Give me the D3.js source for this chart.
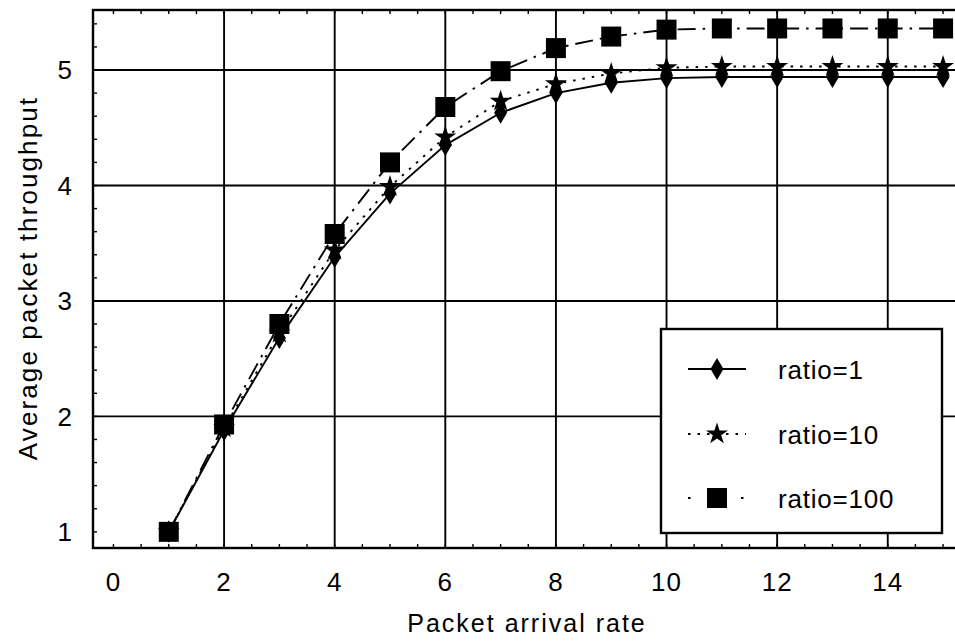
<!DOCTYPE html>
<html>
<head>
<meta charset="utf-8">
<script src="https://cdn.jsdelivr.net/npm/d3@7"></script>
<style>
  html, body { margin: 0; padding: 0; background: #fff; }
  svg { display: block; font-family: "Liberation Sans", Arial, sans-serif; }
</style>
</head>
<body>
<div id="chart"></div>
<script>
// arrival rates and the three throughput curves
const arrivalRate = [1, 2, 3, 4, 5, 6, 7, 8, 9, 10, 11, 12, 13, 14, 15];
const ratio1   = [1.00, 1.88, 2.68, 3.38, 3.93, 4.35, 4.63, 4.80, 4.89, 4.93, 4.94, 4.94, 4.94, 4.94, 4.94];
const ratio10  = [1.00, 1.90, 2.72, 3.44, 3.99, 4.42, 4.73, 4.88, 4.97, 5.02, 5.03, 5.03, 5.03, 5.03, 5.03];
const ratio100 = [1.00, 1.93, 2.80, 3.58, 4.20, 4.68, 4.99, 5.19, 5.29, 5.35, 5.36, 5.36, 5.36, 5.36, 5.36];

const seriesNames = ["ratio=1", "ratio=10", "ratio=100"];
const xTickValues = [0, 2, 4, 6, 8, 10, 12, 14];
const yTickValues = [1, 2, 3, 4, 5];
const xGridValues = [2, 4, 6, 8, 10, 12, 14];
const yGridValues = [2, 3, 4, 5];

const width = 955, height = 643;
// plot box (right edge runs off the page like in the scan)
const plotL = 93, plotT = 10, plotR = 958, plotB = 548;

const x = d3.scaleLinear().domain([-0.37, 15.27]).range([plotL, plotR]);
const y = d3.scaleLinear().domain([0.86, 5.52]).range([plotB, plotT]);

const svg = d3.select("#chart").append("svg")
    .attr("width", width)
    .attr("height", height);

// grid
const grid = svg.append("g").attr("stroke", "#000").attr("stroke-width", 1.9);
grid.selectAll(".vg").data(xGridValues).join("line")
    .attr("x1", d => x(d)).attr("x2", d => x(d))
    .attr("y1", plotT).attr("y2", plotB);
grid.selectAll(".hg").data(yGridValues).join("line")
    .attr("y1", d => y(d)).attr("y2", d => y(d))
    .attr("x1", plotL).attr("x2", plotR);

// minor ticks, pointing inwards
const minorX = d3.range(0, 15.5, 0.5);
const minorY = d3.range(1, 5.5, 0.2);
const ticks = svg.append("g").attr("stroke", "#000").attr("stroke-width", 1.4);
ticks.selectAll(".bt").data(minorX).join("line")
    .attr("x1", d => x(d)).attr("x2", d => x(d))
    .attr("y1", plotB).attr("y2", plotB - 4);
ticks.selectAll(".tt").data(minorX).join("line")
    .attr("x1", d => x(d)).attr("x2", d => x(d))
    .attr("y1", plotT).attr("y2", plotT + 4);
ticks.selectAll(".lt").data(minorY).join("line")
    .attr("y1", d => y(d)).attr("y2", d => y(d))
    .attr("x1", plotL).attr("x2", plotL + 4);

// frame
svg.append("rect")
    .attr("x", plotL).attr("y", plotT)
    .attr("width", plotR - plotL).attr("height", plotB - plotT)
    .attr("fill", "none").attr("stroke", "#000").attr("stroke-width", 2.4);

// tick labels
svg.append("g").selectAll("text").data(xTickValues).join("text")
    .attr("x", d => x(d)).attr("y", 591)
    .attr("text-anchor", "middle")
    .attr("font-size", 26)
    .attr("letter-spacing", 1)
    .text(d => d);
svg.append("g").selectAll("text").data(yTickValues).join("text")
    .attr("x", 72).attr("y", d => y(d))
    .attr("dy", "0.36em")
    .attr("text-anchor", "end")
    .attr("font-size", 26)
    .text(d => d);

// axis titles
svg.append("text")
    .attr("x", 527).attr("y", 632)
    .attr("text-anchor", "middle")
    .attr("font-size", 25)
    .attr("letter-spacing", 2)
    .text("Packet arrival rate");
svg.append("text")
    .attr("transform", `translate(37, 278) rotate(-90)`)
    .attr("text-anchor", "middle")
    .attr("font-size", 26)
    .attr("letter-spacing", 2.1)
    .text("Average packet throughput");

// markers
const diamond = "M0,-11L6.5,0L0,11L-6.5,0Z";
const star = d3.symbol(d3.symbolStar, 150)();
const square = "M-10,-10H10V10H-10Z";

const series = [
    { name: seriesNames[0], values: ratio1,   dash: null,        marker: diamond },
    { name: seriesNames[1], values: ratio10,  dash: "2.5,7",     marker: star },
    { name: seriesNames[2], values: ratio100, dash: "18,7,2.5,7", marker: square }
];

const line = d3.line()
    .x((d, i) => x(arrivalRate[i]))
    .y(d => y(d));

const plot = svg.append("g");
series.forEach(s => {
    plot.append("path")
        .attr("d", line(s.values))
        .attr("fill", "none")
        .attr("stroke", "#000")
        .attr("stroke-width", 1.9)
        .attr("stroke-dasharray", s.dash);
});
series.forEach(s => {
    plot.append("g").selectAll("path").data(s.values).join("path")
        .attr("transform", (d, i) => `translate(${x(arrivalRate[i])},${y(d)})`)
        .attr("d", s.marker)
        .attr("fill", "#000");
});

// legend
const lg = svg.append("g");
lg.append("rect")
    .attr("x", 661).attr("y", 329)
    .attr("width", 281).attr("height", 204)
    .attr("fill", "#fff").attr("stroke", "#000").attr("stroke-width", 2.4);

const rowY = [369, 434, 498];
series.forEach((s, i) => {
    lg.append("line")
        .attr("x1", 688).attr("x2", 746)
        .attr("y1", rowY[i]).attr("y2", rowY[i])
        .attr("stroke", "#000").attr("stroke-width", 1.9)
        .attr("stroke-dasharray", i === 0 ? null : (i === 1 ? "2.5,7" : "2.5,24"));
    lg.append("path")
        .attr("transform", `translate(717,${rowY[i]})`)
        .attr("d", s.marker)
        .attr("fill", "#000");
    lg.append("text")
        .attr("x", 778).attr("y", rowY[i] + 10)
        .attr("font-size", 26)
        .attr("letter-spacing", 0.8)
        .text(s.name);
});
</script>
</body>
</html>
